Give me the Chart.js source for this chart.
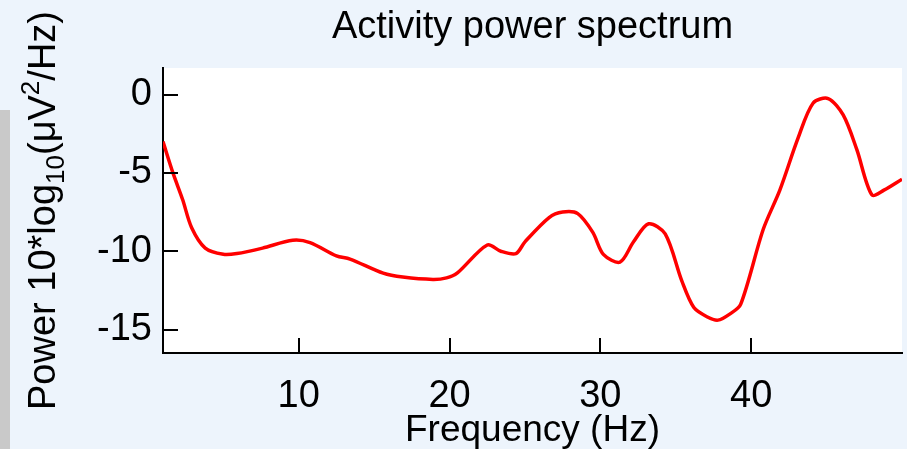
<!DOCTYPE html>
<html>
<head>
<meta charset="utf-8">
<script src="https://cdn.jsdelivr.net/npm/chart.js@4/dist/chart.umd.min.js"></script>
<style>
  html, body { margin: 0; padding: 0; background: #edf4fc; overflow: hidden; }
  #wrap { position: relative; width: 907px; height: 449px; }
  #bar { position: absolute; left: 0; top: 110px; width: 10px; height: 339px; background: #c9c9c9; }
  canvas { position: absolute; left: 0; top: 0; }
</style>
</head>
<body>
<div id="wrap">
  <div id="bar"></div>
  <canvas id="chart" width="907" height="449"></canvas>
</div>
<script>
// frequencies (Hz) and power (dB)
const freqs = [1, 1.66, 2.3, 2.9, 3.8, 5, 5.9, 7.6, 9.6, 10.75, 12.5, 13.4, 15.6, 16.9, 18.9, 19.8, 20.5,
  22.5, 23.4, 24.4, 25, 26.6, 27.5, 28.5, 29.5, 30.2, 31.3, 32.2, 33.2, 34.3, 35.4, 36.2, 37.1, 37.8,
  38.6, 39.3, 40.8, 41.9, 43.1, 44.1, 45.1, 46.1, 47, 48, 48.8, 50];
const power = [-3.0, -5.0, -6.7, -8.5, -9.8, -10.2, -10.15, -9.8, -9.3, -9.45, -10.3, -10.5, -11.4, -11.65,
  -11.8, -11.7, -11.4, -9.6, -10.0, -10.15, -9.4, -7.85, -7.5, -7.6, -8.8, -10.2, -10.7, -9.4, -8.25, -8.9,
  -11.9, -13.6, -14.2, -14.4, -14.0, -13.4, -8.6, -6.1, -2.8, -0.55, -0.25, -1.3, -3.5, -6.4, -6.1, -5.4];
const xTicks = [10, 20, 30, 40];
const yTicks = [0, -5, -10, -15];

const FONT = "'Liberation Sans', Arial, Helvetica, sans-serif";

// white plot background
const plotBg = {
  id: "plotBg",
  beforeDraw(chart) {
    const { ctx, chartArea: a } = chart;
    ctx.save();
    ctx.fillStyle = "#ffffff";
    ctx.fillRect(a.left, a.top, a.right - a.left, a.bottom - a.top);
    ctx.restore();
  }
};

// inward ticks + y label with sub/superscript
const decorations = {
  id: "decorations",
  afterDraw(chart) {
    const { ctx, chartArea: a } = chart;
    const xs = chart.scales.x, ys = chart.scales.y;
    ctx.save();
    ctx.strokeStyle = "#000";
    ctx.lineWidth = 2;
    ctx.beginPath();
    xTicks.forEach((t) => {
      const px = Math.round(xs.getPixelForValue(t));
      ctx.moveTo(px, a.bottom);
      ctx.lineTo(px, a.bottom - 15);
    });
    yTicks.forEach((t) => {
      const py = Math.round(ys.getPixelForValue(t));
      ctx.moveTo(a.left, py);
      ctx.lineTo(a.left + 15, py);
    });
    ctx.stroke();

    // y axis label
    const parts = [
      { t: "Power 10*log", size: 38, dy: 0 },
      { t: "10", size: 26, dy: 9 },
      { t: "(\u03bcV", size: 38, dy: 0 },
      { t: "2", size: 26, dy: -16 },
      { t: "/Hz)", size: 38, dy: 0 }
    ];
    let total = 0;
    parts.forEach((p) => {
      ctx.font = p.size + "px " + FONT;
      p.w = ctx.measureText(p.t).width;
      total += p.w;
    });
    ctx.translate(55, (a.top + a.bottom) / 2);
    ctx.rotate(-Math.PI / 2);
    ctx.fillStyle = "#000";
    ctx.textBaseline = "alphabetic";
    let x = -total / 2;
    parts.forEach((p) => {
      ctx.font = p.size + "px " + FONT;
      ctx.fillText(p.t, x, p.dy);
      x += p.w;
    });
    ctx.restore();
  }
};

new Chart(document.getElementById("chart"), {
  type: "line",
  data: {
    datasets: [{
      data: freqs.map((f, i) => ({ x: f, y: power[i] })),
      borderColor: "#ff0000",
      borderWidth: 3.5,
      pointRadius: 0,
      tension: 0.3,
      fill: false
    }]
  },
  options: {
    responsive: false,
    animation: false,
    layout: { padding: { top: 0, right: 5, left: 0, bottom: 0 } },
    plugins: {
      legend: { display: false },
      tooltip: { enabled: false },
      title: {
        display: true,
        fullSize: false,
        text: "Activity power spectrum",
        color: "#000",
        font: { family: FONT, size: 38, weight: "normal" },
        padding: { top: 5, bottom: 17.4 }
      }
    },
    scales: {
      x: {
        type: "linear",
        min: 1,
        max: 50,
        afterBuildTicks: (s) => { s.ticks = xTicks.map((v) => ({ value: v })); },
        afterFit: (s) => { s.height = 96; },
        grid: { display: false, drawTicks: false },
        border: { display: true, color: "#000", width: 2 },
        ticks: { color: "#000", padding: 21, maxRotation: 0, font: { family: FONT, size: 38 } },
        title: {
          display: true,
          text: "Frequency (Hz)",
          color: "#000",
          font: { family: FONT, size: 37 },
          padding: { top: 0, bottom: -4 }
        }
      },
      y: {
        min: -16.5,
        max: 1.7,
        afterBuildTicks: (s) => { s.ticks = yTicks.map((v) => ({ value: v })); },
        afterFit: (s) => { s.width = 163; },
        grid: { display: false, drawTicks: false },
        border: { display: true, color: "#000", width: 2 },
        ticks: { color: "#000", padding: 11, font: { family: FONT, size: 38 } }
      }
    }
  },
  plugins: [plotBg, decorations]
});
</script>
</body>
</html>
